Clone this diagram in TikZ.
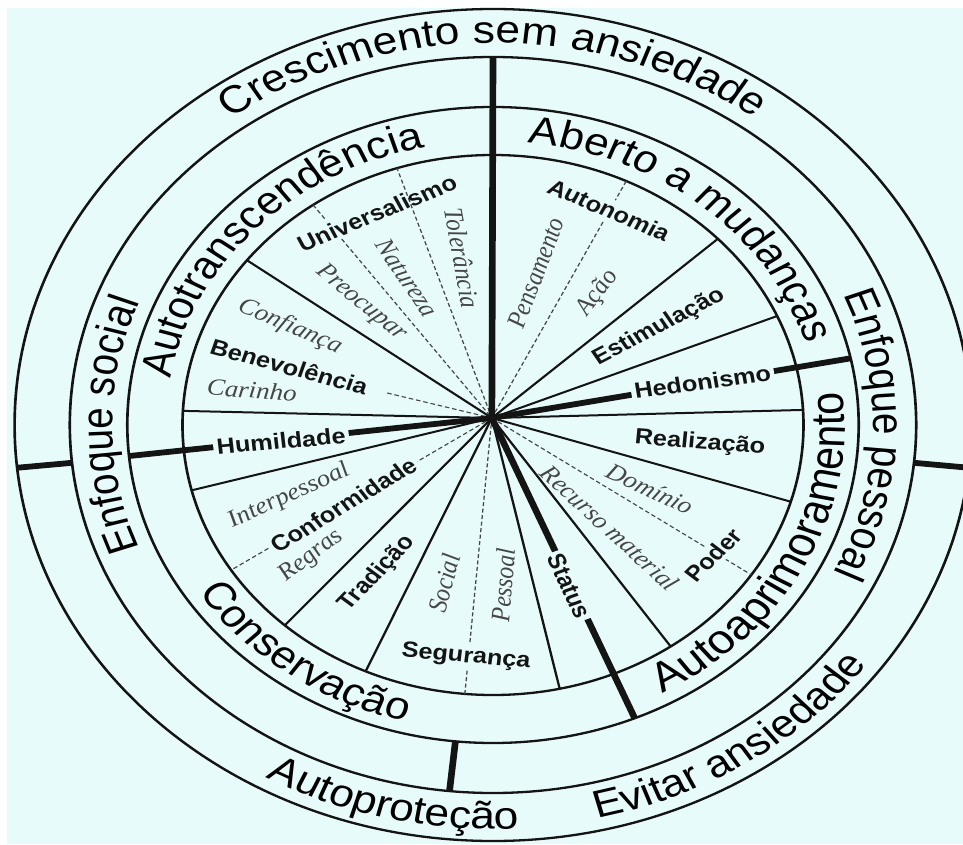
\documentclass[tikz,border=0pt]{standalone}
\usepackage{fontspec}
\setmainfont{Liberation Sans}
\newfontfamily\serifit{Liberation Serif}
\usepackage{xcolor}
\definecolor{bgcyan}{RGB}{232,251,251}
\definecolor{inkblack}{RGB}{20,20,20}
\definecolor{subgray}{RGB}{70,70,70}
\usetikzlibrary{calc,decorations.text}
\newcommand{\bandfont}{\fontsize{38.5}{40}\selectfont}
\newcommand{\bigbandfont}{\fontsize{41}{43}\selectfont}
\newcommand{\valuefont}{\fontsize{22}{24}\selectfont\bfseries}
\newcommand{\subvaluefont}{\fontsize{23.5}{25}\selectfont\serifit\itshape}

\begin{document}
\begin{tikzpicture}[x=1pt,y=1pt,
  ring/.style={draw=inkblack,line width=2.3pt},
  spoke/.style={draw=inkblack,line width=2pt},
  mainspoke/.style={draw=inkblack,line width=5.8pt},
  subspoke/.style={draw=subgray,line width=1.1pt,dash pattern=on 4pt off 2.5pt},
  value/.style={font=\valuefont,text=inkblack,inner sep=3pt},
  subvalue/.style={font=\subvaluefont,text=subgray,inner sep=1pt},
  cut/.style={fill=bgcyan},
  bandtext/.style 2 args={decorate,decoration={text along path,text align=center,text={|#1|#2}}},
]
\path[use as bounding box,fill=white] (-493,-419) rectangle (470,425);
\fill[bgcyan] (-486,-419) rectangle (470,417);

\begin{scope}[transform canvas={xscale=1.15}]
\coordinate (hub) at (-1,7);
\coordinate (carinhoend) at (-92,32);

\foreach \r in {416,368,318,270}
  \draw[ring] (0,0) circle[radius=\r];

\draw[mainspoke] (185.9:368) -- (185.9:416);
\draw[mainspoke] (-5.9:368) -- (-5.9:416);
\draw[mainspoke] (-95.9:318) -- (-95.9:368);

\foreach \a in {142.4,177,43.6,23.8,3.2,-16.5,-55.1,-77.6,-114.2,-132.1,-166}
  \draw[spoke] (hub) -- (\a:270);
\foreach \a in {108,64.6,-33.7,-95.2,-147.5}
  \draw[subspoke] (hub) -- (\a:270);
\draw[subspoke] (125.4:270) -- ($(hub)!0.93!(125.4:270)$);
\draw[subspoke] ($(hub)!0.84!(125.4:270)$) -- (hub);
\draw[subspoke] (carinhoend) -- (hub);

\draw[mainspoke] (hub) -- (90:368);
\draw[mainspoke] (hub) -- (12.1:318);
\draw[mainspoke] (hub) -- (-67.2:318);
\draw[mainspoke] (hub) -- (185.6:318);

\node[value,rotate=25.3]      (univ)   at (-100.9,212)  {Universalismo};
\node[value,rotate=-17]       (benev)  at (-177.1,58.3) {Benevolência};
\node[value,cut,rotate=5.7]   (humil)  at (-184.3,-16)  {Humildade};
\node[value,cut,rotate=34.6]  (conf)   at (-130.2,-80)  {Conformidade};
\node[value,rotate=49.8]      (trad)   at (-100.6,-148.3) {Tradição};
\node[value,cut,rotate=-5.9]  (segur)  at (-23.5,-232)  {Segurança};
\node[value,cut,rotate=-67.5] (status) at (66.1,-161)   {Status};
\node[value,cut,rotate=49]    (poder)  at (191.6,-130)  {Poder};
\node[value,rotate=-4.9]      (realiz) at (180,-18)     {Realização};
\node[value,cut,rotate=8.5]   (hedon)  at (182.2,43)    {Hedonismo};
\node[value,rotate=30.9]      (estim)  at (144.3,98)    {Estimulação};
\node[value,cut,rotate=-25.8] (auton)  at (100.9,215)   {Autonomia};

\node[subvalue,rotate=-81.2] (toler) at (-27,167)    {Tolerância};
\node[subvalue,rotate=-59.7] (natur) at (-74.8,147)  {Natureza};
\node[subvalue,rotate=-43.1] (preoc) at (-114.8,122) {Preocupar};
\node[subvalue,rotate=-25.8] (confi) at (-176.5,98)  {Confiança};
\node[subvalue,rotate=-4.8]  (carin) at (-209.6,35)  {Carinho};
\node[subvalue,rotate=71.7]  (pensa) at (37.4,152)   {Pensamento};
\node[subvalue,rotate=56.2]  (acao)  at (91.3,132)   {Ação};
\node[subvalue,rotate=-28]   (domin) at (136.5,-64)  {Domínio};
\node[subvalue,rotate=-46.2] (recur) at (101.7,-103) {Recurso material};
\node[subvalue,rotate=85.8]  (pesso) at (8.7,-160)   {Pessoal};
\node[subvalue,rotate=76.7]  (socia) at (-42.6,-158) {Social};
\node[subvalue,rotate=27.45] (inter) at (-177.4,-71) {Interpessoal};
\node[subvalue,rotate=40.8]  (regra) at (-157.4,-131) {Regras};

\path[bandtext={\bandfont}{Crescimento sem ansiedade}] (160:382) arc[start angle=160,end angle=20,radius=382];
\path[bandtext={\bandfont}{Autotranscendência}] (196.3:284) arc[start angle=196.3,end angle=76.3,radius=284];
\path[bandtext={\bandfont}{Aberto a mudanças}] (110.2:284) arc[start angle=110.2,end angle=-9.8,radius=284];
\path[bandtext={\bandfont}{Enfoque social}] (240:331) arc[start angle=240,end angle=120,radius=331];
\path[bandtext={\bandfont}{Enfoque pessoal}] (58.3:331) arc[start angle=58.3,end angle=-61.7,radius=331];
\path[bandtext={\bigbandfont}{Autoaprimoramento}] (-87.5:306) arc[start angle=-87.5,end angle=32.5,radius=306];
\path[bandtext={\bandfont}{Conservação}] (174.4:306) arc[start angle=174.4,end angle=294.4,radius=306];
\path[bandtext={\bandfont}{Autoproteção}] (197:404) arc[start angle=197,end angle=317,radius=404];
\path[bandtext={\bandfont}{Evitar ansiedade}] (-116.7:404) arc[start angle=-116.7,end angle=3.3,radius=404];
\end{scope}
\end{tikzpicture}
\end{document}
